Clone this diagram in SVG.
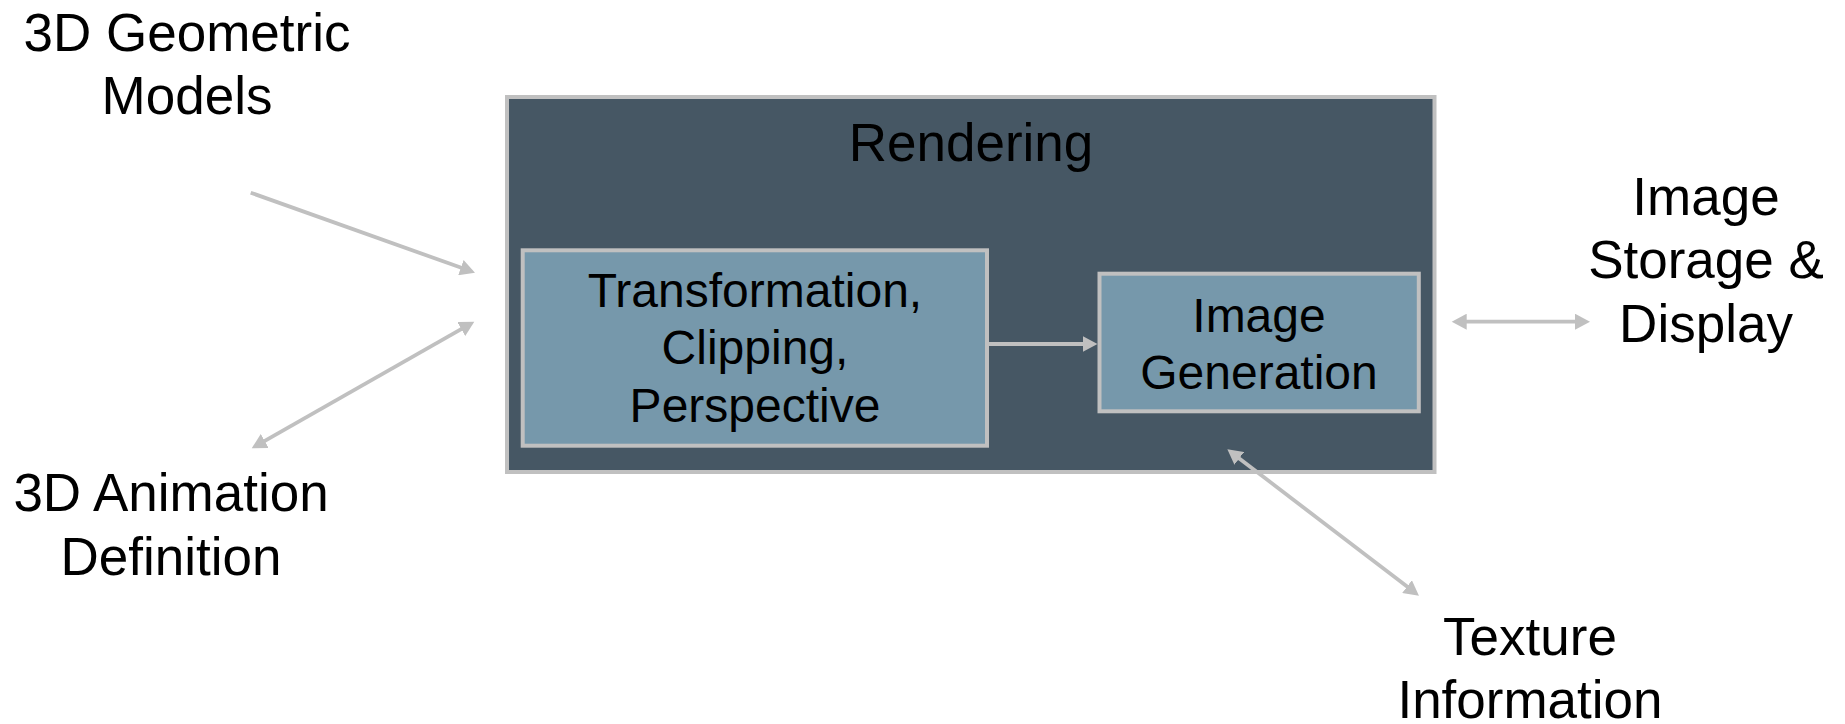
<svg xmlns="http://www.w3.org/2000/svg" width="1845" height="724" viewBox="0 0 1845 724">
  <style>
    text { font-family: "Liberation Sans", Arial, sans-serif; fill: #000; text-anchor: middle; }
    .lbl { font-size: 53px; }
    .inner { font-size: 48px; }
    .frame { fill: #465764; stroke: #c0c0c0; stroke-width: 4; }
    .stage { fill: #7698ab; stroke: #c0c0c0; stroke-width: 4; }
    .conn { stroke: #c0c0c0; stroke-width: 3.8; fill: none; }
  </style>
  <defs>
    <marker id="head" viewBox="0 0 16 16" refX="5" refY="8" markerWidth="16" markerHeight="16" markerUnits="userSpaceOnUse" orient="auto-start-reverse">
      <path d="M0,0 L15,8 L0,16 z" fill="#c0c0c0"/>
    </marker>
  </defs>

  <rect width="1845" height="724" fill="#ffffff"/>

  <!-- Rendering container -->
  <g id="rendering">
    <rect class="frame" x="507" y="97" width="927.5" height="375"/>
    <text class="lbl" x="971" y="161">Rendering</text>
  </g>

  <g id="transformation">
    <rect class="stage" x="522.7" y="250.3" width="464.3" height="195.4"/>
    <text class="inner" x="755" y="307">Transformation,</text>
    <text class="inner" x="755" y="364">Clipping,</text>
    <text class="inner" x="755" y="421.5">Perspective</text>
  </g>

  <g id="image-generation">
    <rect class="stage" x="1099.5" y="273.7" width="319.3" height="137.6"/>
    <text class="inner" x="1259" y="332">Image</text>
    <text class="inner" x="1259" y="388.5">Generation</text>
  </g>

  <!-- External inputs and outputs -->
  <g id="geometric-models">
    <text class="lbl" x="187" y="50.7">3D Geometric</text>
    <text class="lbl" x="187" y="114">Models</text>
  </g>

  <g id="animation-definition">
    <text class="lbl" x="171" y="511">3D Animation</text>
    <text class="lbl" x="171" y="575">Definition</text>
  </g>

  <g id="storage-display">
    <text class="lbl" x="1706" y="215">Image</text>
    <text class="lbl" x="1706" y="278.3">Storage &amp;</text>
    <text class="lbl" x="1706" y="341.7">Display</text>
  </g>

  <g id="texture-information">
    <text class="lbl" x="1530" y="655">Texture</text>
    <text class="lbl" x="1530" y="718.3">Information</text>
  </g>

  <!-- Connectors -->
  <g id="connectors">
    <line class="conn" x1="250.7" y1="192.7" x2="465.6" y2="269.3" marker-end="url(#head)"/>
    <line class="conn" x1="465.6" y1="326.6" x2="260.4" y2="443.4" marker-start="url(#head)" marker-end="url(#head)"/>
    <line class="conn" x1="1461.7" y1="321.7" x2="1580" y2="321.7" marker-start="url(#head)" marker-end="url(#head)"/>
    <line class="conn" x1="1235.3" y1="455.4" x2="1411" y2="589.6" marker-start="url(#head)" marker-end="url(#head)"/>
    <line class="conn" x1="989" y1="344" x2="1087.5" y2="344" marker-end="url(#head)"/>
  </g>
</svg>
